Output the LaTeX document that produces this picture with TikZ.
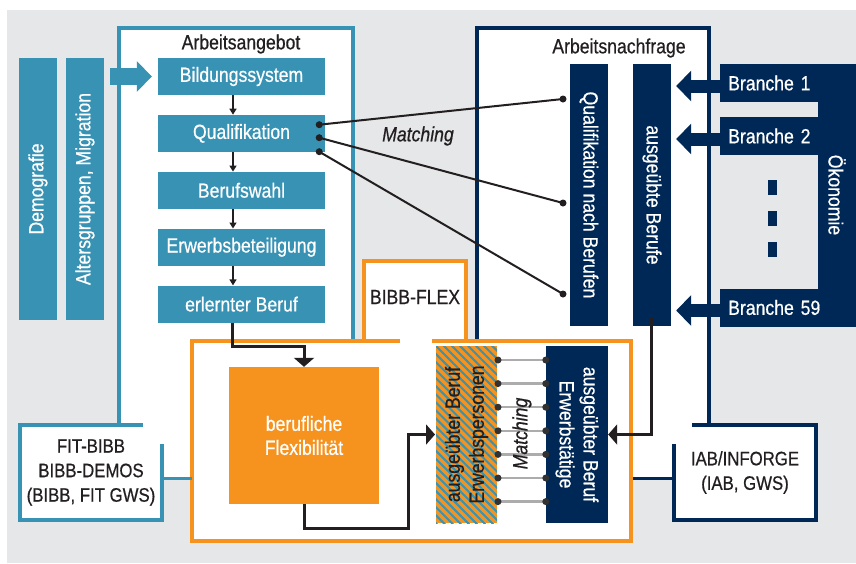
\documentclass[tikz,border=0pt]{standalone}
\usepackage{fontspec}
\setmainfont{Liberation Sans}[FakeStretch=0.86, FakeBold=0.6]
\usetikzlibrary{positioning,calc,arrows.meta,patterns.meta}

\definecolor{tealA}{RGB}{55,146,180}
\definecolor{navyA}{RGB}{0,40,86}
\definecolor{orangeA}{RGB}{246,147,30}
\definecolor{greyA}{RGB}{230,231,232}
\definecolor{inkA}{RGB}{35,31,32}
\definecolor{matchgrey}{RGB}{172,172,172}
\definecolor{dotgrey}{RGB}{50,50,50}

\newcommand{\boxfont}{\fontsize{20.5}{24}\selectfont}

\tikzset{
  every node/.style={font=\boxfont, inner sep=0pt, text=inkA},
  tealbox/.style={fill=tealA, text=white, minimum width=167pt, minimum height=37pt},
  tealbar/.style={fill=tealA, text=white, minimum width=262pt, minimum height=38pt, rotate=90},
  navybar/.style={fill=navyA, text=white, minimum width=262pt, minimum height=38pt, rotate=-90},
  branchebox/.style={fill=navyA, text=white, minimum height=38pt, text width=120pt,
    inner xsep=8pt, align=left, anchor=west},
  infobox/.style={minimum width=142pt, minimum height=95pt, align=center,
    font=\fontsize{19.5}{24.5}\selectfont},
  flexbox/.style={fill=orangeA, text=white, minimum width=150pt, minimum height=137pt, align=center},
  hatchbox/.style={minimum width=61pt, minimum height=177pt, preaction={fill=orangeA},
    pattern={Lines[angle=-45,distance=5.7pt,line width=2pt]}, pattern color=tealA},
  italic/.style={font=\boxfont\itshape},
  tealline/.style={draw=tealA, line width=4pt},
  navyline/.style={draw=navyA, line width=4pt},
  orangeline/.style={draw=orangeA, line width=4pt},
  smallarrow/.style={draw=inkA, line width=1.3pt, -{Triangle[width=7pt,length=6pt]}},
  connector/.style={draw=inkA, line width=3pt, -{Triangle[width=20pt,length=9pt]}},
  matchline/.style={draw=inkA, line width=2pt},
  greyline/.style={draw=matchgrey, line width=2.5pt},
  blockteal/.style={draw=tealA, line width=17pt, -{Triangle[width=30pt,length=15pt]}},
  blocknavy/.style={draw=navyA, line width=13pt, -{Triangle[width=30pt,length=15pt]}}
}

\begin{document}
\begin{tikzpicture}[x=1pt,y=-1pt]

\useasboundingbox (0,0) rectangle (856,563);
\fill[greyA] (7,10) rectangle (856,563); % Hintergrund

% Arbeitsangebot
\fill[white] (119,28) rectangle (353,478);
\fill[white] (18,423) rectangle (164,522);
\draw[tealline] (119,425) -- (119,28) -- (353,28) -- (353,339);
\draw[tealline] (143,425) -- (20,425) -- (20,520) -- (162,520) -- (162,444);

% Arbeitsnachfrage
\fill[white] (477,28) rectangle (709,478);
\fill[white] (672,423) rectangle (818,522);
\draw[navyline] (477,339) -- (477,28) -- (709,28) -- (709,425);
\draw[navyline] (692,425) -- (816,425) -- (816,520) -- (674,520) -- (674,444);

% BIBB-FLEX
\fill[white] (362,259) rectangle (468,341);
\draw[orangeline] (364,341) -- (364,261) -- (466,261) -- (466,341);
\fill[white] (190,339) rectangle (633,543);
\draw[orangeline] (400,341) -- (192,341) -- (192,541) -- (631,541) -- (631,341) -- (432,341);
\node (bibbflex) at (415,297) {BIBB-FLEX};

% linke Seite
\node[tealbar] (demografie) at (38,189) {Demografie};
\node[tealbar] (alter) at (85,189) {Altersgruppen, Migration};

\node (angebottitel) at (241,44) {Arbeitsangebot};
\node[tealbox] (bildung) at (241.5,76.5) {Bildungssystem};
\node[tealbox, below=19.5pt of bildung] (quali) {Qualifikation};
\node[tealbox, below=19.5pt of quali] (wahl) {Berufswahl};
\node[tealbox, below=19.5pt of wahl] (beteiligung) {Erwerbsbeteiligung};
\node[tealbox, below=19.5pt of beteiligung] (erlernt) {erlernter Beruf};

\foreach \a/\b in {bildung/quali, quali/wahl, wahl/beteiligung, beteiligung/erlernt}
  \draw[smallarrow] ([xshift=-8.5pt]\a.south) -- ([xshift=-8.5pt]\b.north);

\draw[blockteal] ([xshift=6pt]alter.south |- bildung.west) -- ([xshift=-6pt]bildung.west);

% rechte Seite
\node (nachfragetitel) at (619,48) {Arbeitsnachfrage};
\node[navybar] (qnb) at (589,195) {Qualifikation nach Berufen};
\node[navybar] (berufe) at (652,195) {ausgeübte Berufe};
\node[navybar] (oekonomie) at (837,195) {Ökonomie};
\node[branchebox] (b1) at (720,83) {Branche 1};
\node[branchebox] (b2) at (720,136) {Branche 2};
\node[branchebox] (b59) at (720,307.5) {Branche 59};
\foreach \y in {180,211,242}
  \fill[navyA] (768,\y) rectangle (777,\y+15);

\foreach \b in {b1,b2,b59}
  \draw[blocknavy] ([yshift=-3pt]\b.west) -- ([xshift=5pt,yshift=-3pt]berufe.north |- \b.west);

% Matching oben
\coordinate (q1) at ($(quali.north east)+(-6,10)$);
\coordinate (q2) at ($(quali.north east)+(-6,23)$);
\coordinate (q3) at ($(quali.north east)+(-6,37)$);
\coordinate (r1) at ($(qnb.center)+(-26,-96)$);
\coordinate (r2) at ($(qnb.center)+(-26,8)$);
\coordinate (r3) at ($(qnb.center)+(-26,99)$);
\foreach \a/\b in {q1/r1, q2/r2, q3/r3} {
  \draw[matchline] (\a) -- (\b);
  \fill[inkA] (\a) circle (3.5) (\b) circle (3.5);
}
\node[italic] (matching) at (418,136) {Matching};

% unten
\node[flexbox] (flex) at (304,435.5) {berufliche\\Flexibilität};
\node[hatchbox] (erwp) at (466.5,434.5) {};
\node[rotate=90, align=center] (erwptext) at (erwp) {ausgeübter Beruf\\Erwerbspersonen};
\node[fill=navyA, text=white, rotate=-90, minimum width=177pt, minimum height=62pt,
  align=center] (erwt) at (577,434.5) {ausgeübter Beruf\\Erwerbstätige};

\foreach \i in {0,...,6} {
  \coordinate (ml) at ($(erwp.north east)+(0,15+23.6*\i)$);
  \coordinate (mr) at (erwt.south |- ml);
  \draw[greyline] (ml) -- (mr);
  \fill[dotgrey] (ml) circle (3.5) (mr) circle (3.5);
}
\node[italic, rotate=90] (matching2) at (522,433.5) {Matching};

\draw[connector] ([xshift=-9pt]erlernt.south) -- ++(0,24) -| (flex);
\draw[connector] (flex.south) -- ++(0,24) -- ++(104,0) |- (erwp);
\draw[connector] ($(berufe.center)+(-1,123)$) |- (erwt);

% Modelle
\node[infobox] (fit) at (91,472.5) {FIT-BIBB\\BIBB-DEMOS\\(BIBB, FIT GWS)};
\node[infobox] (iab) at (745,472.5) {IAB/INFORGE\\(IAB, GWS)};
\draw[tealA, line width=3pt] ([yshift=-5.5pt]fit.east) -- ++(30,0);
\draw[navyA, line width=3pt] ([yshift=-5.5pt]iab.west) -- ++(-41,0);

\end{tikzpicture}
\end{document}
